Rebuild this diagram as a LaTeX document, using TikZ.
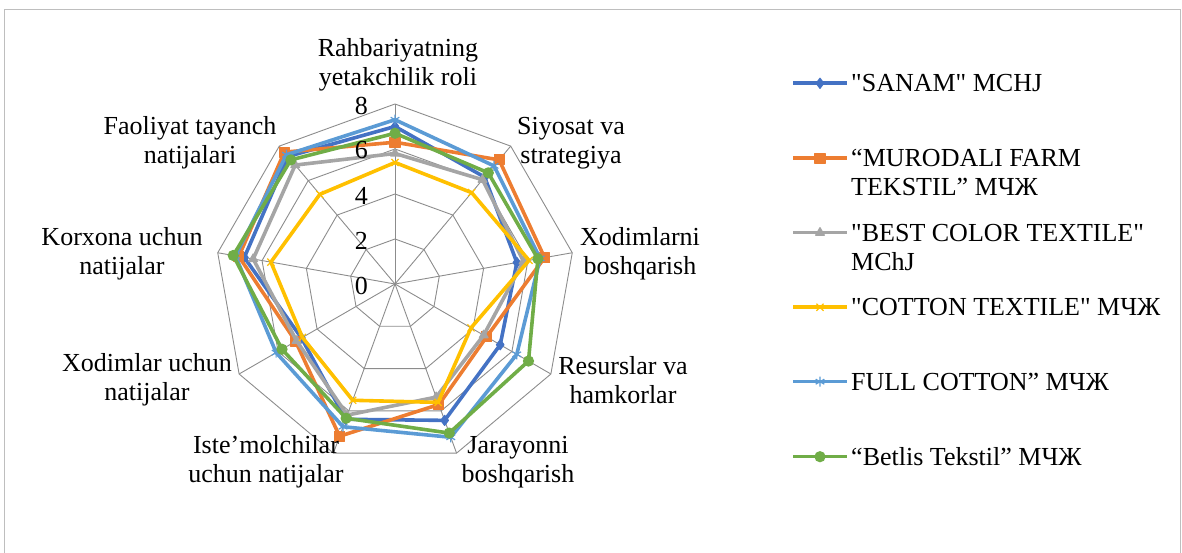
\documentclass[tikz,border=0pt]{standalone}
\usepackage{fontspec}
\setmainfont{Liberation Serif}[Ligatures=TeXOff]
\usetikzlibrary{calc,plotmarks}

\definecolor{sanam}{RGB}{68,114,196}
\definecolor{murodali}{RGB}{237,125,49}
\definecolor{bestcolor}{RGB}{165,165,165}
\definecolor{cottontex}{RGB}{255,192,0}
\definecolor{fullcotton}{RGB}{91,155,213}
\definecolor{betlis}{RGB}{112,173,71}
\definecolor{gridgray}{RGB}{140,140,140}
\definecolor{framegray}{RGB}{190,190,190}

\begin{document}
\begin{tikzpicture}[
  x=1pt, y=1pt,
  font=\fontsize{26}{29}\selectfont,
  grid line/.style={
      draw=gridgray,
      line width=0.9pt
    },
  series/.style={
      line width=3.6pt,
      line join=round,
      mark size=5pt,
      mark options={solid, line width=1.2pt}
    },
  axis label/.style={
      align=center,
      inner sep=0pt
    },
  tick label/.style={
      anchor=east,
      inner sep=0pt
    },
  legend label/.style={
      anchor=west,
      align=left,
      inner sep=0pt
    }]

  \useasboundingbox (-395,-269) rectangle (787,284);
  \draw [framegray, line width=1pt] (-390,-269) -- (-390,274) -- (785,274) -- (785,-269);

  \coordinate (c) at (0,0);

  % web and spokes
  \begin{scope}[x=22.5pt, y=22.5pt]
    \foreach \r in {2,4,6,8}
      \draw [grid line] (90:\r) \foreach \k in {1,...,8} { -- (90-40*\k:\r) } -- cycle;
    \foreach \k in {0,...,8}
      \draw [grid line] (c) -- (90-40*\k:8);

    \draw [series, sanam, mark=diamond*]
      plot coordinates {(90:7.0) (50:6.2) (10:5.5) (-30:5.4) (-70:6.45) (-110:6.4) (-150:4.8) (-190:6.8) (-230:7.4)} -- cycle;
    \draw [series, murodali, mark=square*]
      plot coordinates {(90:6.3) (50:7.2) (10:6.75) (-30:4.7) (-70:5.7) (-110:7.2) (-150:5.1) (-190:7.05) (-230:7.65)} -- cycle;
    \draw [series, bestcolor, mark=triangle*]
      plot coordinates {(90:5.8) (50:6.05) (10:5.8) (-30:4.55) (-70:5.35) (-110:6.2) (-150:5.05) (-190:6.4) (-230:6.9)} -- cycle;
    \draw [series, cottontex, mark=x]
      plot coordinates {(90:5.4) (50:5.3) (10:6.05) (-30:3.9) (-70:5.6) (-110:5.5) (-150:4.75) (-190:5.6) (-230:5.2)} -- cycle;
    \draw [series, fullcotton, mark=asterisk]
      plot coordinates {(90:7.3) (50:6.85) (10:6.55) (-30:6.25) (-70:7.25) (-110:6.75) (-150:6.1) (-190:7.2) (-230:7.5)} -- cycle;
    \draw [series, betlis, mark=*]
      plot coordinates {(90:6.7) (50:6.45) (10:6.45) (-30:6.85) (-70:7.05) (-110:6.35) (-150:5.8) (-190:7.3) (-230:7.2)} -- cycle;
  \end{scope}

  % scale
  \foreach \v in {0,2,4,6,8}
    \node [tick label] (tick\v) at ($(c) + (-27, 22.5*\v - 1.5)$) {\v};

  % axis names
  \node [axis label] (ax0) at ($(c) + (3, 219)$) {Rahbariyatning\\yetakchilik roli};
  \node [axis label] (ax1) at ($(c) + (176, 141)$) {Siyosat va\\strategiya};
  \node [axis label] (ax2) at ($(c) + (245, 30)$) {Xodimlarni\\boshqarish};
  \node [axis label] (ax3) at ($(c) + (228, -96)$) {Resurslar va\\hamkorlar};
  \node [axis label] (ax4) at ($(c) + (123, -178)$) {Jarayonni\\boshqarish};
  \node [axis label] (ax5) at ($(c) + (-129, -178)$) {Iste’molchilar\\uchun natijalar};
  \node [axis label] (ax6) at ($(c) + (-248, -96)$) {Xodimlar uchun\\natijalar};
  \node [axis label] (ax7) at ($(c) + (-273, 30)$) {Korxona uchun\\natijalar};
  \node [axis label] (ax8) at ($(c) + (-205, 141)$) {Faoliyat tayanch\\natijalari};

  % legend
  \draw [series, sanam, mark=diamond*, mark indices={2}] plot coordinates {(398,200.7) (425,200.7) (452,200.7)};
  \node [legend label] (leg1) at (456,200.7) {"SANAM" MCHJ};
  \draw [series, murodali, mark=square*, mark indices={2}] plot coordinates {(398,125.7) (425,125.7) (452,125.7)};
  \node [legend label] (leg2) at (456,111.2) {“MURODALI FARM\\TEKSTIL” МЧЖ};
  \draw [series, bestcolor, mark=triangle*, mark indices={2}] plot coordinates {(398,51.3) (425,51.3) (452,51.3)};
  \node [legend label] (leg3) at (456,36.8) {"BEST COLOR TEXTILE"\\MChJ};
  \draw [series, cottontex, mark=x, mark indices={2}] plot coordinates {(398,-23.3) (425,-23.3) (452,-23.3)};
  \node [legend label] (leg4) at (456,-23.3) {"COTTON TEXTILE" МЧЖ};
  \draw [series, fullcotton, mark=asterisk, mark indices={2}] plot coordinates {(398,-97.7) (425,-97.7) (452,-97.7)};
  \node [legend label] (leg5) at (456,-97.7) {FULL COTTON” МЧЖ};
  \draw [series, betlis, mark=*, mark indices={2}] plot coordinates {(398,-172.7) (425,-172.7) (452,-172.7)};
  \node [legend label] (leg6) at (456,-172.7) {“Betlis Tekstil” МЧЖ};
\end{tikzpicture}
\end{document}
